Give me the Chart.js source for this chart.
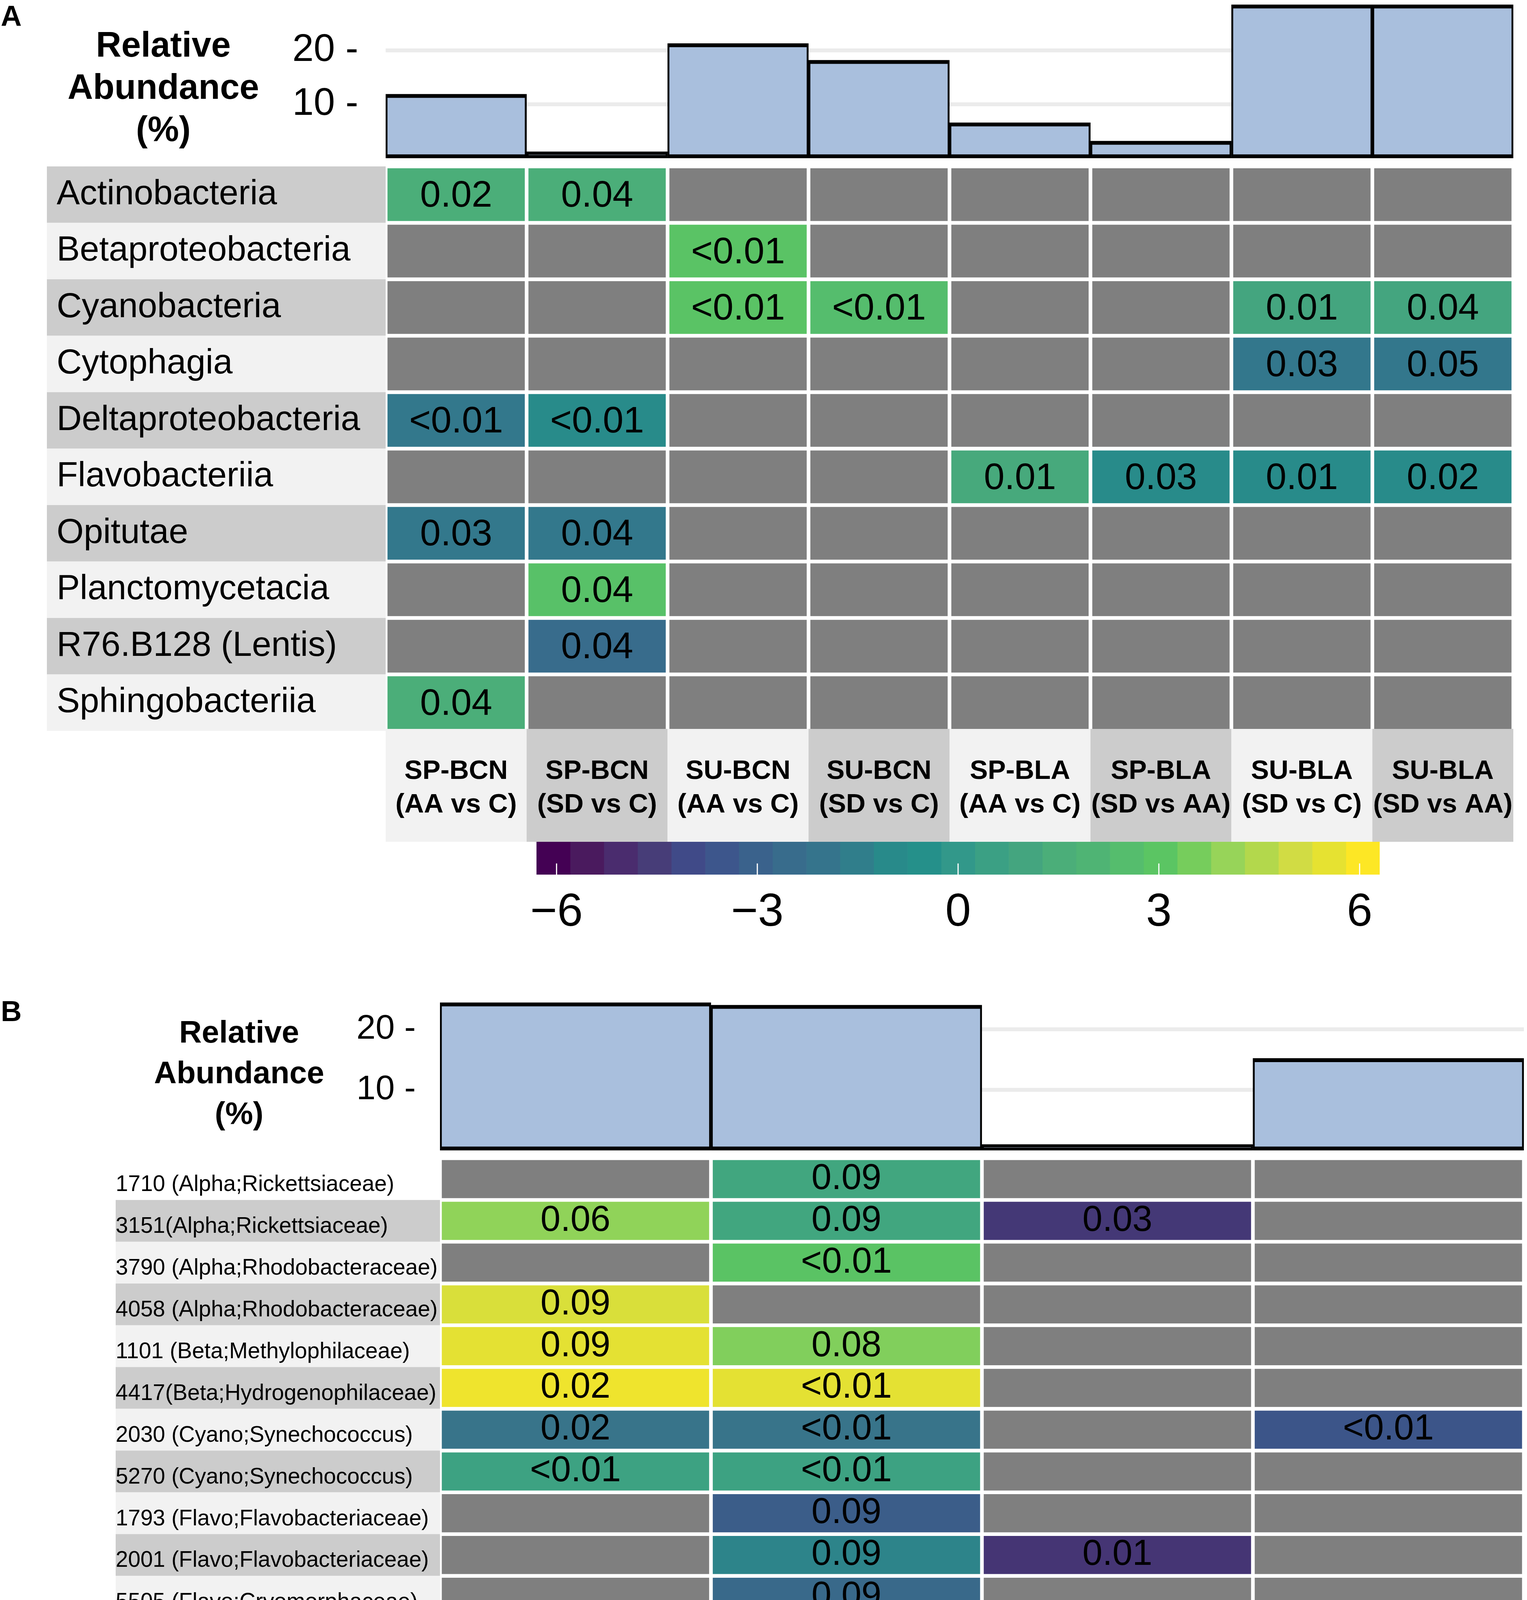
<!DOCTYPE html>
<html>
<head>
<meta charset="utf-8">
<script src="https://cdn.jsdelivr.net/npm/chart.js@4.4.1/dist/chart.umd.min.js"></script>
<style>
  html, body { margin: 0; padding: 0; background: #fff; overflow: hidden; }
  #page { position: relative; width: 3908px; height: 4844px; overflow: hidden; font-family: "Liberation Sans", Arial, sans-serif; color: #000; }
  canvas { position: absolute; left: 0; }
  .tag { position: absolute; left: 2px; font-weight: bold; font-size: 74px; line-height: 74px; }
  .ytitle { position: absolute; text-align: center; font-weight: bold; }
</style>
</head>
<body>
<div id="page">
  <div class="tag" style="top:4px">A</div>
  <div class="ytitle" style="left:118px;top:60px;width:600px;font-size:90px;line-height:108px">Relative<br>Abundance<br>(%)</div>
  <canvas id="barA" width="3908" height="420" style="top:0"></canvas>
  <canvas id="heatA" width="3908" height="1740" style="top:420px"></canvas>
  <canvas id="keyA" width="3908" height="240" style="top:2155px"></canvas>

  <div class="tag" style="top:2552px">B</div>
  <div class="ytitle" style="left:312px;top:2590px;width:600px;font-size:80px;line-height:104px">Relative<br>Abundance<br>(%)</div>
  <canvas id="barB" width="3908" height="410" style="top:2540px"></canvas>
  <canvas id="heatB" width="3908" height="1650" style="top:2960px"></canvas>
  <canvas id="keyB" width="3908" height="235" style="top:4609px"></canvas>
</div>

<script>
const FONT = '"Liberation Sans", Arial, sans-serif';

// ---- panel A : classes ----
const comparisonsA = [
    ['SP-BCN', '(AA vs C)'], ['SP-BCN', '(SD vs C)'], ['SU-BCN', '(AA vs C)'], ['SU-BCN', '(SD vs C)'],
    ['SP-BLA', '(AA vs C)'], ['SP-BLA', '(SD vs AA)'], ['SU-BLA', '(SD vs C)'], ['SU-BLA', '(SD vs AA)']
];
const abundanceA = [11.9, 1.2, 21.3, 18.2, 6.6, 3.2, 28.5, 28.5];
const taxaA = [
    'Actinobacteria', 'Betaproteobacteria', 'Cyanobacteria', 'Cytophagia', 'Deltaproteobacteria',
    'Flavobacteriia', 'Opitutae', 'Planctomycetacia', 'R76.B128 (Lentis)', 'Sphingobacteriia'
];
// log2 fold change per taxon (row) and comparison (column), null = not significant
const log2fcA = [
    [1.5, 1.5, null, null, null, null, null, null],
    [null, null, 2.9, null, null, null, null, null],
    [null, null, 2.9, 2.5, null, null, 1.0, 1.0],
    [null, null, null, null, null, null, -1.85, -1.85],
    [-1.8, -0.95, null, null, null, null, null, null],
    [null, null, null, null, 1.25, -0.95, -0.95, -0.95],
    [-1.8, -1.8, null, null, null, null, null, null],
    [null, 2.75, null, null, null, null, null, null],
    [null, -2.5, null, null, null, null, null, null],
    [1.5, null, null, null, null, null, null, null]
];
const padjA = [
    ['0.02', '0.04', null, null, null, null, null, null],
    [null, null, '<0.01', null, null, null, null, null],
    [null, null, '<0.01', '<0.01', null, null, '0.01', '0.04'],
    [null, null, null, null, null, null, '0.03', '0.05'],
    ['<0.01', '<0.01', null, null, null, null, null, null],
    [null, null, null, null, '0.01', '0.03', '0.01', '0.02'],
    ['0.03', '0.04', null, null, null, null, null, null],
    [null, '0.04', null, null, null, null, null, null],
    [null, '0.04', null, null, null, null, null, null],
    ['0.04', null, null, null, null, null, null, null]
];

// ---- panel B : OTUs ----
const comparisonsB = [['SU-BCN', '(AA vs C)'], ['SU-BCN', '(SD vs C)'], ['SP-BLA', '(SD vs AA)'], ['SU-BLA', '(SD vs C)']];
const abundanceB = [24.4, 24.0, 1.0, 15.2];
const otusB = [
    '1710 (Alpha;Rickettsiaceae)', '3151(Alpha;Rickettsiaceae)', '3790 (Alpha;Rhodobacteraceae)',
    '4058 (Alpha;Rhodobacteraceae)', '1101 (Beta;Methylophilaceae)', '4417(Beta;Hydrogenophilaceae)',
    '2030 (Cyano;Synechococcus)', '5270 (Cyano;Synechococcus)', '1793 (Flavo;Flavobacteriaceae)',
    '2001 (Flavo;Flavobacteriaceae)', '5505 (Flavo;Cryomorphaceae)', '4534 (Gamma;Pseudomon.)',
    '5051 (Gamma;Oceanos.)'
];
const log2fcB = [
    [null, 3.2, null, null],
    [4.55, 3.2, -1.75, null],
    [null, 4.0, null, null],
    [5.55, null, null, null],
    [5.7, 4.4, null, null],
    [5.85, 5.7, null, null],
    [1.9, 1.9, null, 1.0],
    [3.1, 3.1, null, null],
    [null, 1.25, null, null],
    [null, 2.35, -2.0, null],
    [null, 1.6, null, null],
    [null, null, null, -4.55],
    [3.5, 1.5, null, null]
];
const padjB = [
    [null, '0.09', null, null],
    ['0.06', '0.09', '0.03', null],
    [null, '<0.01', null, null],
    ['0.09', null, null, null],
    ['0.09', '0.08', null, null],
    ['0.02', '<0.01', null, null],
    ['0.02', '<0.01', null, '<0.01'],
    ['<0.01', '<0.01', null, null],
    [null, '0.09', null, null],
    [null, '0.09', '0.01', null],
    [null, '0.09', null, null],
    [null, null, null, '0.06'],
    ['<0.01', '0.09', null, null]
];

// colour key: range, ticks and the 25 binned colours of each panel's key
const keyTicks = [-6, -3, 0, 3, 6];
const keyRange = [-6.3, 6.3];
const paletteA = ['#440154', '#4a1a5e', '#4a2c6e', '#473d78', '#404a88', '#3d568c', '#3a628c', '#386c8c',
                  '#35748c', '#307e8b', '#288a8a', '#25908a', '#32988a', '#3ba084', '#44a57f', '#4bae79',
                  '#4fb474', '#55bd6d', '#5bc563', '#76cd5c', '#97d459', '#b3d84c', '#d1dc44', '#e6e231', '#fde725'];
const paletteB = ['#440154', '#480c5c', '#4a1660', '#4a1a62', '#4a1f66', '#482a6c', '#482c70', '#462f72',
                  '#453574', '#443a78', '#42407b', '#40457f', '#3e4b84', '#3d5087', '#3c5589', '#3a668a',
                  '#37788a', '#288a8a', '#3ba084', '#4bb077', '#5bc463', '#8fd359', '#b3d84c', '#d9df3a', '#fde725'];

const NA_GREY = '#7f7f7f';
const BAND_LIGHT = '#f2f2f2';
const BAND_DARK = '#cccccc';

function hexToRgb(h) {
    return [1, 3, 5].map(i => parseInt(h.slice(i, i + 2), 16));
}

// continuous colour for a fold change, read along the key's bins
function fillFor(v, palette) {
    const w = (keyRange[1] - keyRange[0]) / palette.length;
    const p = Math.min(palette.length - 1, Math.max(0, (v - keyRange[0]) / w - 0.5));
    const i = Math.min(Math.floor(p), palette.length - 2);
    const f = p - i;
    const a = hexToRgb(palette[i]);
    const b = hexToRgb(palette[i + 1]);
    return 'rgb(' + a.map((c, k) => Math.round(c + (b[k] - c) * f)).join(',') + ')';
}

// keep chart areas where we put them: no extra room for half tick labels
function fixWidth(w) {
    return s => { s.width = w; s.paddingTop = 0; s.paddingBottom = 0; };
}
function fixHeight(h) {
    return s => { s.height = h; s.paddingLeft = 0; s.paddingRight = 0; };
}

function abundanceChart(id, labels, values, o) {
    return new Chart(document.getElementById(id), {
        type: 'bar',
        data: {
            labels: labels,
            datasets: [{
                data: values,
                backgroundColor: '#a9bfdd',
                borderColor: '#000',
                borderWidth: { top: 10, bottom: 10, left: 5, right: 5 },
                borderSkipped: false,
                barPercentage: 1,
                categoryPercentage: 1
            }]
        },
        options: {
            responsive: false,
            animation: false,
            devicePixelRatio: 1,
            layout: { padding: o.padding },
            plugins: { legend: { display: false }, tooltip: { enabled: false } },
            scales: {
                x: { display: false },
                y: {
                    min: 0,
                    max: o.max,
                    border: { display: false },
                    grid: { color: '#ebebeb', lineWidth: 10, drawTicks: false },
                    afterBuildTicks: s => { s.ticks = s.ticks.filter(t => t.value > 0 && t.value % 10 === 0); },
                    afterFit: fixWidth(o.axisWidth),
                    ticks: {
                        stepSize: 10,
                        padding: o.tickPad,
                        color: '#000',
                        font: { family: FONT, size: o.tickSize },
                        callback: v => v + ' -'
                    }
                }
            }
        }
    });
}

function heatDecor(rows, cols, pv, o) {
    return {
        id: 'heatDecor',
        beforeDraw(chart) {
            const ctx = chart.ctx, ys = chart.scales.y, a = chart.chartArea;
            ctx.save();
            rows.forEach((_, r) => {
                const y0 = ys.getPixelForValue(r), y1 = ys.getPixelForValue(r + 1);
                ctx.fillStyle = o.rowBand(r);
                ctx.fillRect(o.bandLeft, y0, a.left - o.bandLeft, y1 - y0);
            });
            ctx.restore();
        },
        afterDatasetsDraw(chart) {
            const ctx = chart.ctx, xs = chart.scales.x, a = chart.chartArea;
            ctx.save();
            ctx.fillStyle = '#000';
            ctx.textAlign = 'center';
            ctx.textBaseline = 'middle';
            ctx.font = o.cellSize + 'px ' + FONT;
            rows.forEach((_, r) => {
                chart.getDatasetMeta(r).data.forEach((bar, c) => {
                    const s = pv[r][c];
                    if (s) ctx.fillText(s, bar.x, (bar.y + bar.base) / 2 + o.cellDy);
                });
            });
            // column label bands sit on top of the last row, as in the figure
            const pitch = (xs.right - xs.left) / cols.length;
            cols.forEach((_, c) => {
                const xc = xs.getPixelForValue(c);
                ctx.fillStyle = c % 2 ? BAND_DARK : BAND_LIGHT;
                ctx.fillRect(xc - pitch / 2, a.bottom - o.overlap, pitch, xs.bottom - a.bottom + o.overlap);
            });
            ctx.restore();
        }
    };
}

function heatmap(id, rows, cols, fc, pv, palette, o) {
    const datasets = rows.map((name, r) => ({
        label: name,
        data: cols.map(() => [r, r + 1]),
        backgroundColor: c => fc[r][c.dataIndex] == null ? NA_GREY : fillFor(fc[r][c.dataIndex], palette),
        borderColor: '#fff',
        borderWidth: 5,
        borderSkipped: false,
        barPercentage: 1,
        categoryPercentage: 1,
        grouped: false
    }));
    return new Chart(document.getElementById(id), {
        type: 'bar',
        data: { labels: cols, datasets: datasets },
        options: {
            responsive: false,
            animation: false,
            devicePixelRatio: 1,
            layout: { padding: o.padding },
            plugins: { legend: { display: false }, tooltip: { enabled: false } },
            scales: {
                x: {
                    grid: { display: false },
                    border: { display: false },
                    afterFit: fixHeight(o.axisHeight),
                    ticks: {
                        z: 1,
                        autoSkip: false, maxRotation: 0, minRotation: 0,
                        padding: o.colPad,
                        color: '#000',
                        font: { family: FONT, size: o.colSize, weight: 'bold', lineHeight: o.colLine + 'px' }
                    }
                },
                y: {
                    min: 0,
                    max: rows.length,
                    reverse: true,
                    grid: { display: false },
                    border: { display: false },
                    afterBuildTicks: s => { s.ticks = rows.map((_, r) => ({ value: r + 0.5 })); },
                    afterFit: fixWidth(o.axisWidth),
                    ticks: {
                        autoSkip: false,
                        crossAlign: 'far',
                        padding: 0,
                        labelOffset: o.rowDy,
                        color: '#000',
                        font: { family: FONT, size: o.rowSize },
                        callback: (v, i) => rows[i]
                    }
                }
            }
        },
        plugins: [heatDecor(rows, cols, pv, o)]
    });
}

function colourKey(id, palette, o) {
    const w = (keyRange[1] - keyRange[0]) / palette.length;
    const datasets = palette.map((colour, k) => ({
        data: [[keyRange[0] + k * w, keyRange[0] + (k + 1) * w]],
        backgroundColor: colour,
        borderWidth: 0,
        barPercentage: 1,
        categoryPercentage: 1,
        grouped: false
    }));
    const tickMarks = {
        id: 'tickMarks',
        afterDatasetsDraw(chart) {
            const ctx = chart.ctx, xs = chart.scales.x, a = chart.chartArea;
            const len = (a.bottom - a.top) * 0.34;
            ctx.save();
            ctx.strokeStyle = '#fff';
            ctx.lineWidth = 3;
            keyTicks.forEach(v => {
                const x = xs.getPixelForValue(v);
                ctx.beginPath();
                ctx.moveTo(x, a.bottom - len);
                ctx.lineTo(x, a.bottom);
                ctx.stroke();
            });
            ctx.restore();
        }
    };
    return new Chart(document.getElementById(id), {
        type: 'bar',
        data: { labels: [''], datasets: datasets },
        options: {
            indexAxis: 'y',
            responsive: false,
            animation: false,
            devicePixelRatio: 1,
            layout: { padding: o.padding },
            plugins: { legend: { display: false }, tooltip: { enabled: false } },
            scales: {
                x: {
                    min: keyRange[0],
                    max: keyRange[1],
                    grid: { display: false },
                    border: { display: false },
                    afterBuildTicks: s => { s.ticks = keyTicks.map(v => ({ value: v })); },
                    afterFit: fixHeight(o.axisHeight),
                    ticks: {
                        padding: o.pad,
                        color: '#000',
                        font: { family: FONT, size: o.size },
                        callback: v => v < 0 ? '\u2212' + Math.abs(v) : String(v)
                    }
                },
                y: { display: false }
            }
        },
        plugins: [tickMarks]
    });
}

// ---- panel A ----
abundanceChart('barA', comparisonsA, abundanceA, {
    padding: { left: 0, top: 0, right: 35, bottom: 15 },
    max: 29.35, axisWidth: 987, tickPad: 70, tickSize: 98
});
heatmap('heatA', taxaA, comparisonsA, log2fcA, padjA, paletteA, {
    padding: { left: 145, top: 6, right: 35, bottom: 5 },
    axisWidth: 842, axisHeight: 284,
    rowSize: 89, rowDy: 0, bandLeft: 120,
    rowBand: r => r % 2 ? BAND_LIGHT : BAND_DARK,
    colSize: 69, colLine: 86, colPad: 53,
    cellSize: 95, cellDy: 5, overlap: 5
});
colourKey('keyA', paletteA, {
    padding: { left: 1373, right: 377, top: 0, bottom: 0 },
    axisHeight: 156, pad: 20, size: 118
});

// ---- panel B ----
abundanceChart('barB', comparisonsB, abundanceB, {
    padding: { left: 0, top: 8, right: 8, bottom: 5 },
    max: 25.6, axisWidth: 1126, tickPad: 62, tickSize: 88
});
heatmap('heatB', otusB, comparisonsB, log2fcB, padjB, paletteB, {
    padding: { left: 296, top: 5, right: 8, bottom: 2 },
    axisWidth: 830, axisHeight: 253,
    rowSize: 57, rowDy: 15, bandLeft: 296,
    rowBand: r => r === 0 ? '#ffffff' : (r % 2 ? BAND_DARK : BAND_LIGHT),
    colSize: 87, colLine: 102, colPad: 24,
    cellSize: 92, cellDy: 0, overlap: 24
});
colourKey('keyB', paletteB, {
    padding: { left: 1495, right: 335, top: 0, bottom: 0 },
    axisHeight: 134, pad: 22, size: 110
});
</script>
</body>
</html>
